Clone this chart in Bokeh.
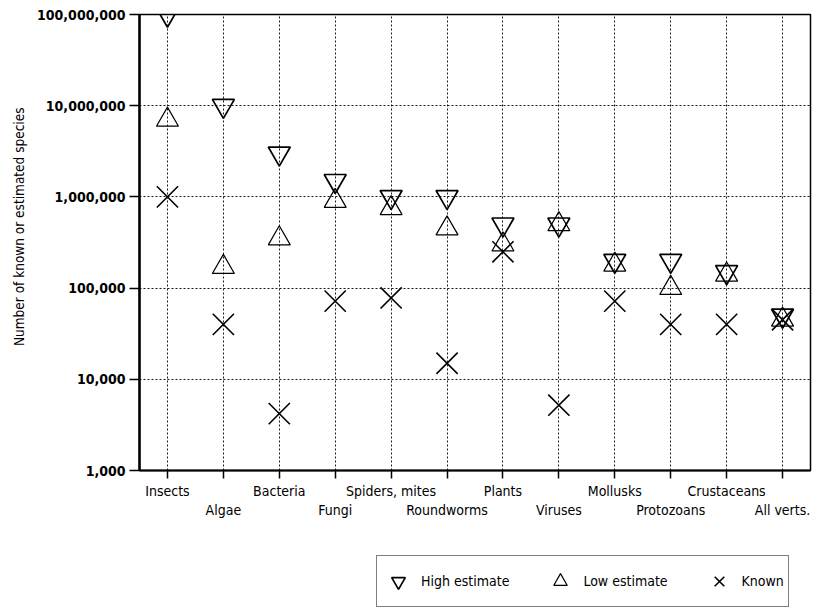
from bokeh.plotting import figure
from bokeh.layouts import column
from bokeh.models import (FixedTicker, NumeralTickFormatter, Legend, LegendItem,
                          Title, Range1d)
from bokeh.embed import file_html
from bokeh.resources import INLINE

# ---- data ----
categories = ["Insects", "Algae", "Bacteria", "Fungi", "Spiders, mites",
              "Roundworms", "Plants", "Viruses", "Mollusks", "Protozoans",
              "Crustaceans", "All verts."]
high_estimate = [100_000_000, 10_000_000, 3_000_000, 1_500_000, 1_000_000,
                 1_000_000, 500_000, 500_000, 200_000, 200_000, 150_000, 50_000]
low_estimate = [7_000_000, 170_000, 350_000, 900_000, 750_000,
                450_000, 300_000, 500_000, 180_000, 100_000, 140_000, 45_000]
known = [1_000_000, 40_000, 4_200, 72_000, 78_000,
         15_000, 250_000, 5_200, 72_000, 40_000, 40_000, 45_000]
y_ticks = [1_000, 10_000, 100_000, 1_000_000, 10_000_000, 100_000_000]
series_labels = ["High estimate", "Low estimate", "Known"]

FONT = "DejaVu Sans Condensed"
xs = list(range(len(categories)))

p = figure(x_range=Range1d(-0.5, len(categories) - 0.5),
           y_range=Range1d(y_ticks[0], y_ticks[-1]),
           y_axis_type="log",
           frame_width=671, frame_height=456,
           min_border_left=139, min_border_right=4,
           min_border_top=14, min_border_bottom=50,
           output_backend="svg", toolbar_location=None,
           background_fill_color="white", border_fill_color="white")

p.outline_line_color = "black"
p.outline_line_width = 1.5

# axes
p.xaxis.ticker = FixedTicker(ticks=xs)
p.xaxis.major_label_overrides = {
    i: (c if i % 2 == 0 else "\n" + c) for i, c in enumerate(categories)}
p.xaxis.major_label_text_font = FONT
p.xaxis.major_label_text_font_size = "14px"
p.xaxis.major_label_text_color = "black"
p.xaxis.major_label_standoff = 4
p.xaxis.major_tick_out = 8
p.xaxis.major_tick_in = 0
p.xaxis.minor_tick_line_color = None
p.xaxis.axis_line_width = 2
p.xaxis.axis_line_color = "black"
p.xaxis.major_tick_line_color = "black"
p.xaxis.major_tick_line_width = 1.5

p.yaxis.ticker = FixedTicker(ticks=y_ticks)
p.yaxis.formatter = NumeralTickFormatter(format="0,0")
p.yaxis.major_label_text_font = FONT
p.yaxis.major_label_text_font_size = "14px"
p.yaxis.major_label_text_font_style = "bold"
p.yaxis.major_label_text_color = "black"
p.yaxis.major_label_standoff = 4
p.yaxis.major_tick_out = 10
p.yaxis.major_tick_in = 0
p.yaxis.minor_tick_line_color = None
p.yaxis.axis_line_width = 2.5
p.yaxis.axis_line_color = "black"
p.yaxis.major_tick_line_color = "black"
p.yaxis.major_tick_line_width = 1.5

# y axis title as a left title (positioned toward the top)
p.add_layout(Title(text="Number of known or estimated species", align="right",
                   offset=93, standoff=16, text_font=FONT, text_font_size="13.5px",
                   text_font_style="normal", text_color="black"), "left")

# grids
p.xgrid.ticker = FixedTicker(ticks=xs)
for g in (p.xgrid, p.ygrid):
    g.grid_line_color = "black"
    g.grid_line_dash = "2 2"
    g.grid_line_width = 1
    g.grid_line_alpha = 0.9

# markers
STYLES = [dict(marker="inverted_triangle", size=22, fill_color=None,
               line_color="black", line_width=1.7),
          dict(marker="triangle", size=22, fill_color=None,
               line_color="black", line_width=1.2),
          dict(marker="x", size=30, line_color="black", line_width=1.6)]
SERIES = [high_estimate, low_estimate, known]
for vals, st in zip(SERIES, STYLES):
    p.scatter(xs, vals, **st)

# ---- legend strip (separate figure below the chart; its ranges keep the
#      series points out of view so only the legend shows) ----
lf = figure(width=814, height=92,
            x_range=Range1d(-100, -99), y_range=Range1d(-100, -99),
            min_border=0, x_axis_location=None, y_axis_location=None,
            output_backend="svg", toolbar_location=None,
            background_fill_color="white", border_fill_color="white")
lf.outline_line_color = None
lf.xgrid.visible = False
lf.ygrid.visible = False
items = []
for lab, vals, st in zip(series_labels, SERIES, STYLES):
    r = lf.scatter(xs, vals, **st)
    items.append(LegendItem(label=lab, renderers=[r]))
legend = Legend(items=items, orientation="horizontal", location=(237, 5),
                glyph_width=34, glyph_height=42, label_standoff=6, spacing=34,
                padding=4, margin=0,
                label_text_font=FONT, label_text_font_size="14px",
                label_text_color="black",
                border_line_color="black", border_line_width=1.5,
                background_fill_color="white", background_fill_alpha=1)
lf.add_layout(legend)

open("out.html", "w").write(file_html(column(p, lf, spacing=0), INLINE))
